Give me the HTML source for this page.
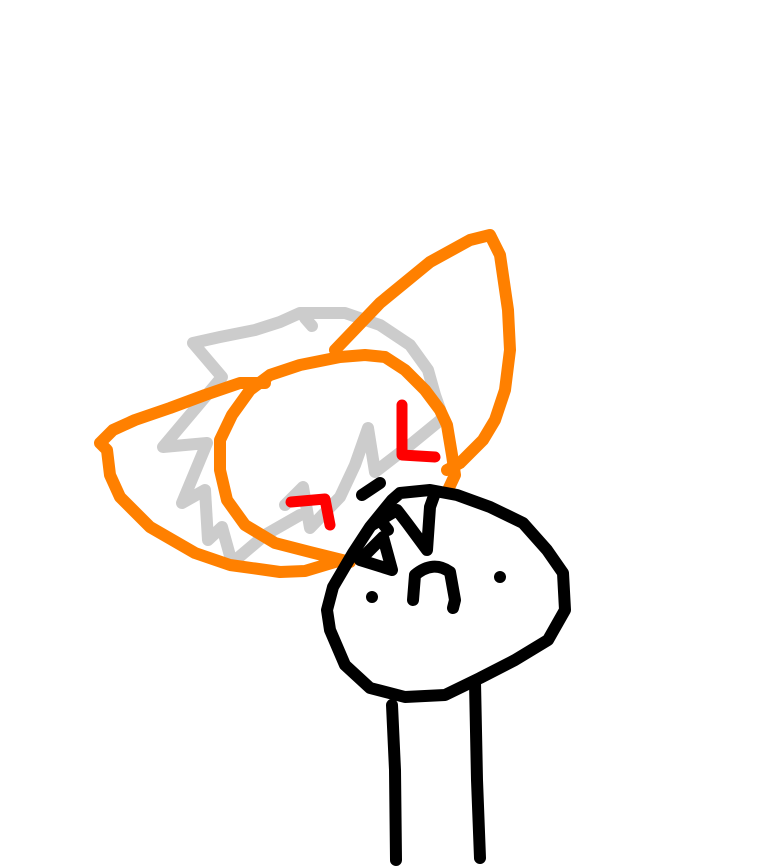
<!DOCTYPE html>
<html><head><meta charset="utf-8"><style>html,body{margin:0;padding:0;background:#fff}svg{display:block}</style></head>
<body>
<svg width="768" height="866" viewBox="0 0 768 866" xmlns="http://www.w3.org/2000/svg" fill="none" stroke-linecap="round" stroke-linejoin="round">
<!-- gray hair -->
<path stroke="#cccccc" stroke-width="12" d="M193 343 L220 337 L255 330 L280 322 L300 313 L345 313 L380 325 L410 345 L428 370 L435 395 L443 418 L410 445 L375 472 L368 428 L355 465 L340 497 M340 497 L310 528 L303 487 L285 505 M300 515 L265 535 L232 563 L222 527 L208 540 L205 490 L182 503 L207 443 L163 447 L222 377 L193 343 M305 318 L312 326"/>
<!-- orange ear -->
<path stroke="#ff8000" stroke-width="12" d="M335 350 L380 303 L430 262 L470 240 L490 235 L500 255 L508 310 L510 350 L505 390 L495 420 L483 440 L470 453 L460 463 L447 470"/>
<!-- orange inner oval -->
<path stroke="#ff8000" stroke-width="12" d="M448 490 L455 475 L452 455 L447 425 L440 410 L425 390 L405 370 L385 357 L365 355 L340 357 L300 365 L270 375 L250 390 L232 415 L220 440 L220 470 L227 500 L245 525 L275 543 L310 552 L350 562"/>
<!-- orange outer -->
<path stroke="#ff8000" stroke-width="12" d="M265 383 L240 383 L205 395 L170 408 L135 420 L113 430 L100 443 L107 450 L110 475 L120 497 L150 527 L195 553 L230 565 L280 572 L305 571 L335 562"/>
<!-- red -->
<path stroke="#ff0000" stroke-width="11" d="M402 405 L402 455 L435 457 M291 502 L325 499 L330 525"/>
<!-- black -->
<g stroke="#000" stroke-width="12">
<path d="M362 495 L380 483"/>
<path d="M400 493 L430 490 L457 495 L490 507 L523 523 L547 550 L563 573 L565 610 L548 640 L515 660 L480 678 L445 695 L405 697 L370 688 L345 665 L330 630 L327 610 L333 587 L353 553 L370 527 L392 500 L400 493"/>
<path d="M372 525 L397 510 L407 523 L427 550 L430 507 L435 493"/>
<path d="M383 537 L360 560 L392 570 L383 537 M380 520 L388 530"/>
<path d="M413 600 L415 575 Q433 560 450 572 L455 600 L453 608"/>
<path d="M392 705 L395 770 L396 860 M475 682 L477 780 L480 858"/>
</g>
<circle cx="372" cy="597" r="6" fill="#000"/>
<circle cx="500" cy="577" r="6" fill="#000"/>
</svg>
</body></html>
